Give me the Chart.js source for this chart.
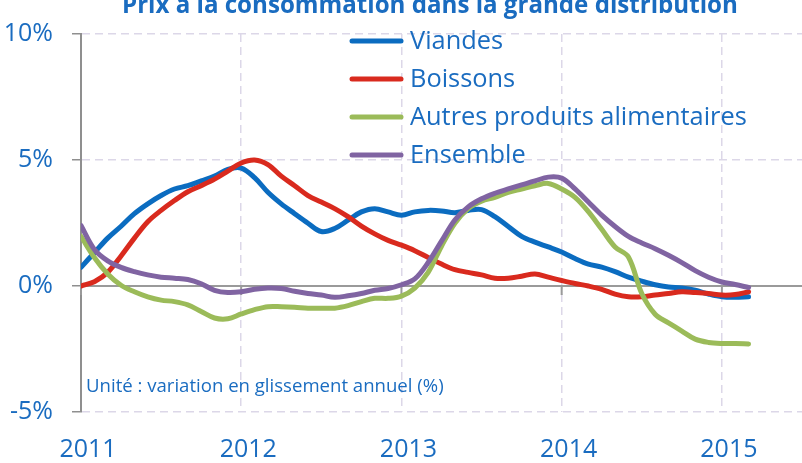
<!DOCTYPE html>
<html lang="fr">
<head>
<meta charset="utf-8">
<title>Prix à la consommation dans la grande distribution</title>
<script src="https://cdn.jsdelivr.net/npm/chart.js@4.4.1/dist/chart.umd.min.js"></script>
<style>
  html, body { margin: 0; padding: 0; background: #fff; }
  #wrap { width: 802px; height: 463px; }
</style>
</head>
<body>
<div id="wrap"><canvas id="myChart" width="802" height="463"></canvas></div>
<script>
const titre = 'Prix à la consommation dans la grande distribution';
const unite = 'Unité : variation en glissement annuel (%)';
const seriesNames = ['Viandes', 'Boissons', 'Autres produits alimentaires', 'Ensemble'];
const yearLabels = ['2011', '2012', '2013', '2014', '2015'];
const yearTicks = [0, 12, 24, 36, 48]; // mois depuis janvier 2011

// glissement annuel mensuel, janv. 2011 -> mars 2015
const viandes = [0.74, 1.32, 1.90, 2.37, 2.87, 3.26, 3.59, 3.85, 3.98, 4.17, 4.36, 4.63,
  4.68, 4.30, 3.72, 3.26, 2.87, 2.49, 2.16, 2.28, 2.61, 2.94, 3.07, 2.94,
  2.81, 2.94, 3.00, 2.98, 2.91, 3.00, 3.03, 2.75, 2.36, 1.97, 1.74, 1.55,
  1.35, 1.09, 0.87, 0.75, 0.57, 0.35, 0.19, 0.05, -0.04, -0.08, -0.17, -0.32,
  -0.43, -0.45, -0.43];
const boissons = [0.00, 0.17, 0.54, 1.19, 1.90, 2.55, 3.00, 3.39, 3.74, 3.98, 4.24, 4.56,
  4.88, 5.00, 4.82, 4.36, 3.98, 3.59, 3.33, 3.07, 2.75, 2.38, 2.07, 1.81,
  1.62, 1.40, 1.13, 0.87, 0.65, 0.54, 0.44, 0.31, 0.31, 0.39, 0.48, 0.35,
  0.22, 0.10, 0.00, -0.13, -0.32, -0.43, -0.43, -0.36, -0.30, -0.23, -0.26, -0.30,
  -0.36, -0.34, -0.23];
const autres = [1.97, 1.13, 0.48, 0.03, -0.23, -0.43, -0.56, -0.62, -0.75, -1.01, -1.27, -1.30,
  -1.11, -0.94, -0.82, -0.82, -0.84, -0.88, -0.88, -0.88, -0.78, -0.62, -0.49, -0.49,
  -0.40, -0.08, 0.54, 1.58, 2.49, 3.07, 3.37, 3.52, 3.72, 3.85, 3.98, 4.07,
  3.85, 3.52, 2.95, 2.25, 1.55, 1.15, -0.30, -1.12, -1.46, -1.79, -2.11, -2.24,
  -2.28, -2.28, -2.30];
const ensemble = [2.40, 1.45, 1.00, 0.74, 0.57, 0.44, 0.35, 0.31, 0.26, 0.09, -0.17, -0.26,
  -0.23, -0.13, -0.08, -0.10, -0.21, -0.30, -0.36, -0.45, -0.39, -0.30, -0.17, -0.10,
  0.05, 0.28, 0.93, 1.78, 2.62, 3.14, 3.46, 3.68, 3.85, 4.01, 4.17, 4.32,
  4.28, 3.85, 3.33, 2.81, 2.36, 1.97, 1.71, 1.48, 1.22, 0.93, 0.61, 0.35,
  0.16, 0.06, -0.06];

const months = viandes.map((v, i) => i);
const colors = ['#0b6cc0', '#d92a1e', '#9bbb59', '#8064a2'];
const textBlue = '#1a6cc0';
const fontFamily = "'Open Sans', 'Noto Sans', sans-serif";
const gridColor = '#dcd7e8';
const axisGray = '#8f8f8f';

function fitSize(ctx, text, weight, width) {
    ctx.font = weight + ' 20px ' + fontFamily;
    return 20 * width / ctx.measureText(text).width;
}

const decor = {
    id: 'decor',
    beforeDatasetsDraw(chart) {
        const {ctx, chartArea, scales: {x, y}} = chart;
        const y0 = y.getPixelForValue(0);
        ctx.save();
        ctx.strokeStyle = '#9a9a9a';
        ctx.lineWidth = 2;
        ctx.beginPath();
        ctx.moveTo(chartArea.left, y0);
        ctx.lineTo(chartArea.right, y0);
        yearTicks.forEach(m => {
            const px = x.getPixelForValue(m);
            ctx.moveTo(px, y0);
            ctx.lineTo(px, y0 + 9);
        });
        ctx.stroke();
        ctx.restore();
    },
    afterDraw(chart) {
        const ctx = chart.ctx;
        ctx.save();
        ctx.fillStyle = textBlue;

        // titre (coupé en haut comme l'original)
        let size = fitSize(ctx, titre, 'bold', 616);
        ctx.font = 'bold ' + size + 'px ' + fontFamily;
        ctx.textAlign = 'left';
        ctx.textBaseline = 'alphabetic';
        ctx.fillText(titre, 122, 13);

        // légende
        size = fitSize(ctx, seriesNames[2], 'normal', 337);
        ctx.font = size + 'px ' + fontFamily;
        ctx.textBaseline = 'middle';
        chart.data.datasets.forEach((ds, i) => {
            const ly = 41 + i * 38;
            ctx.strokeStyle = ds.borderColor;
            ctx.lineWidth = 5;
            ctx.lineCap = 'round';
            ctx.beginPath();
            ctx.moveTo(352, ly);
            ctx.lineTo(401, ly);
            ctx.stroke();
            ctx.fillText(ds.label, 410, ly + 1);
        });

        // unité
        size = fitSize(ctx, unite, 'normal', 358);
        ctx.font = size + 'px ' + fontFamily;
        ctx.textBaseline = 'alphabetic';
        ctx.fillText(unite, 86, 392);
        ctx.restore();
    }
};

const ctx = document.getElementById('myChart').getContext('2d');
const seriesData = [viandes, boissons, autres, ensemble];
const drawOrder = [3, 2, 1, 0];

const myChart = new Chart(ctx, {
    type: 'line',
    data: {
        datasets: seriesData.map((vals, i) => ({
            label: seriesNames[i],
            data: vals.map((v, j) => ({x: months[j], y: v})),
            borderColor: colors[i],
            backgroundColor: colors[i],
            borderWidth: 5,
            pointRadius: 0,
            tension: 0.35,
            borderCapStyle: 'round',
            borderJoinStyle: 'round',
            order: drawOrder[i]
        }))
    },
    options: {
        responsive: false,
        animation: false,
        devicePixelRatio: 1,
        layout: { padding: { top: 26, right: 0, bottom: 0, left: 0 } },
        plugins: {
            legend: { display: false },
            tooltip: { enabled: false },
            title: { display: false }
        },
        scales: {
            x: {
                type: 'linear',
                min: 0,
                max: 54,
                afterBuildTicks: scale => { scale.ticks = yearTicks.map(v => ({value: v})); },
                afterFit: scale => { scale.height = 51; },
                grid: { color: c => c.index === 0 ? 'rgba(0,0,0,0)' : gridColor, lineWidth: 1.5, drawTicks: false },
                border: { display: false, dash: [8, 5] },
                ticks: {
                    autoSkip: false,
                    maxRotation: 0,
                    padding: 23,
                    labelOffset: 7,
                    color: textBlue,
                    font: { family: fontFamily, size: 25 },
                    callback: (v, i) => yearLabels[i]
                }
            },
            y: {
                min: -5,
                max: 10,
                afterFit: scale => { scale.width = 81; },
                grid: {
                    color: c => c.tick && c.tick.value === 0 ? 'rgba(0,0,0,0)' : gridColor,
                    lineWidth: 1.5,
                    tickLength: 9,
                    tickColor: axisGray,
                    tickWidth: 1.5
                },
                border: { display: true, color: axisGray, width: 2, dash: [8, 5] },
                ticks: {
                    stepSize: 5,
                    padding: 19,
                    color: textBlue,
                    font: { family: fontFamily, size: 25 },
                    callback: v => v + '%'
                }
            }
        }
    },
    plugins: [decor]
});
</script>
</body>
</html>
